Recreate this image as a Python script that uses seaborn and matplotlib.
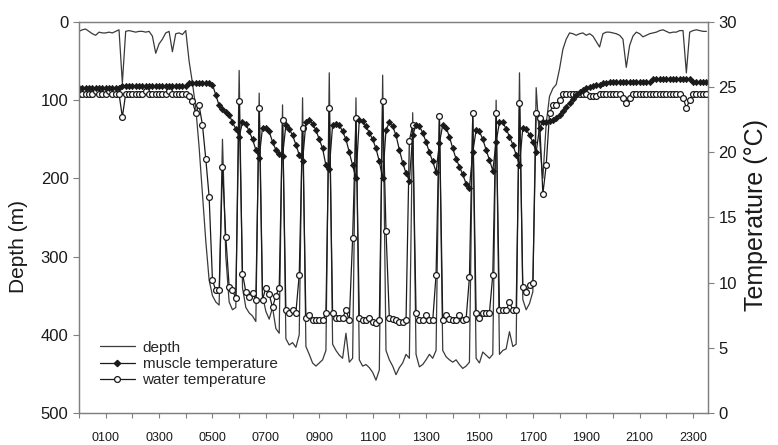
import numpy as np
import pandas as pd
import matplotlib
matplotlib.use('Agg')
import matplotlib.pyplot as plt
import seaborn as sns
from matplotlib.lines import Line2D

# one reading every 7.5 minutes, starting at 0000
sample_min = 7.5

depth = [
    12, 10, 9, 12, 15, 17, 13, 14, 14, 13, 14, 12, 10, 78, 12, 11, 12, 13, 12, 12,
    13, 12, 18, 40, 28, 22, 14, 12, 38, 15, 14, 16, 11, 50, 78,
    110, 160, 220, 280, 330, 350, 358, 362,
    150,
    300, 358, 368, 365,
    62,
    340, 365, 372, 376, 383,
    91,
    350, 370, 380, 365, 392, 398,
    106,
    405, 413, 410, 416, 400,
    97,
    415, 425, 436, 440, 436, 432, 420,
    65,
    412, 420, 426, 430, 398, 435, 430,
    97,
    432, 440, 438, 442, 448, 458, 445,
    68,
    420, 432, 440, 451, 442, 436, 425, 430,
    116,
    425, 441, 438, 432, 425, 430, 420,
    119,
    420, 428, 432, 435, 432, 438, 443, 440, 435,
    115,
    430, 436, 422, 426, 430, 425,
    100,
    425, 420, 418, 396, 415, 412,
    65,
    355, 368, 360, 345,
    84,
    150, 200, 130, 95, 85, 80, 60, 35, 22,
    14, 15, 17, 15, 14, 17, 15, 18, 25, 32, 15, 13, 13, 14, 15, 17, 22, 58, 30, 18,
    13, 15, 19, 17, 15, 14, 13, 11, 10, 12, 14, 13, 13, 11, 11, 65, 13, 11, 10, 11,
    12, 12,
]

muscle_temp = [
    24.9, 24.9, 24.9, 24.9, 24.9, 24.9, 24.9, 24.9, 24.9, 24.9, 24.9, 24.9, 24.9,
    25.1, 25.1, 25.1, 25.1, 25.1, 25.1, 25.1, 25.1, 25.1, 25.1, 25.1, 25.1, 25.1,
    25.1, 25.1, 25.1, 25.1, 25.1, 25.1, 25.1,
    25.3, 25.3, 25.3, 25.3, 25.3, 25.3, 25.3,
    25.2, 24.4, 23.6, 23.3, 23.1, 22.9, 22.3, 21.8, 21.2,
    22.3, 22.2, 21.6, 21.0, 20.2, 19.6,
    21.9, 21.9, 21.6, 20.8, 20.2, 19.9, 19.7,
    22.1, 21.8, 21.3, 20.6, 19.8, 19.3,
    22.3, 22.5, 22.2, 21.7, 21.0, 20.3, 19.0, 18.7,
    22.1, 22.2, 22.1, 21.6, 21.0, 20.0, 19.0, 18.0,
    22.5, 22.4, 22.0, 21.5, 21.0, 20.3, 19.3, 18.0,
    21.7, 22.3, 22.0, 21.3, 20.2, 19.2, 18.4, 17.8, 21.3,
    22.1, 22.0, 21.5, 20.8, 20.0, 19.3, 18.5, 20.7,
    22.1, 21.9, 21.2, 20.3, 19.5, 18.9, 18.3, 17.6, 17.3, 20.0,
    21.7, 21.6, 21.0, 20.2, 19.4, 18.6, 20.8,
    22.3, 22.3, 21.8, 21.2, 20.6, 19.8, 19.0,
    21.9, 21.8, 21.3, 20.8, 20.0,
    21.9, 22.3, 22.3, 22.4, 22.5, 22.6, 22.9, 23.2, 23.5, 23.8, 24.1, 24.4, 24.6,
    24.8, 24.9, 25.0, 25.1, 25.2, 25.2, 25.3, 25.3,
    25.4, 25.4, 25.4, 25.4, 25.4, 25.4, 25.4, 25.4, 25.4, 25.4, 25.4, 25.4, 25.4,
    25.6, 25.6, 25.6, 25.6, 25.6, 25.6, 25.6, 25.6, 25.6, 25.6, 25.6, 25.6,
    25.4, 25.4, 25.4, 25.4, 25.4,
]

water_temp = [
    24.5, 24.5, 24.5, 24.5, 24.5, 24.7, 24.5, 24.5, 24.5, 24.7, 24.5, 24.5, 24.5,
    22.7,
    24.5, 24.5, 24.5, 24.5, 24.5, 24.5, 24.7, 24.5, 24.5, 24.5, 24.5, 24.5, 24.5,
    24.7, 24.5, 24.5, 24.5, 24.5, 24.5,
    24.3, 23.9, 23.0, 23.6, 22.1, 19.5, 16.6, 10.2, 9.4, 9.4, 18.9, 13.5, 9.7, 9.4, 8.8,
    23.9,
    10.7, 9.3, 8.9, 9.2, 8.7,
    23.4,
    8.7, 9.6, 9.1, 8.1, 9.0, 9.6,
    22.5,
    7.9, 7.7, 7.9, 7.7, 10.6,
    21.9,
    7.3, 7.5, 7.1, 7.1, 7.1, 7.1, 7.7,
    23.4,
    7.7, 7.3, 7.3, 7.3, 7.9, 7.1, 13.4,
    22.6,
    7.3, 7.1, 7.1, 7.3, 7.0, 6.9, 7.1,
    23.9,
    14.0, 7.3, 7.2, 7.1, 7.0, 7.0, 7.1, 20.9,
    22.1,
    7.7, 7.1, 7.1, 7.5, 7.1, 7.1, 10.6,
    22.8,
    7.1, 7.5, 7.2, 7.1, 7.1, 7.5, 7.1, 7.2, 10.4,
    23.0,
    7.7, 7.3, 7.7, 7.7, 7.7, 10.6,
    23.0,
    7.9, 7.9, 7.9, 8.5, 7.9, 7.9,
    23.8,
    9.7, 9.3, 9.8, 10.0,
    23.0,
    22.6, 16.8, 19.0, 23.0, 23.6, 23.6, 24.0, 24.5,
    24.5, 24.5, 24.5, 24.5, 24.5, 24.5, 24.5, 24.3, 24.3, 24.3, 24.5, 24.5, 24.5,
    24.5, 24.5, 24.5, 24.5, 24.2, 23.8, 24.2, 24.5, 24.5, 24.5, 24.5, 24.5, 24.5,
    24.5, 24.5, 24.5, 24.5, 24.5, 24.5, 24.5, 24.5, 24.5, 24.2, 23.4, 24.0, 24.5,
    24.5, 24.5, 24.5, 24.5,
]

tick_hours = list(range(0, 24, 2))
label_hours = list(range(1, 24, 2))
hour_labels = ['0100', '0300', '0500', '0700', '0900', '1100',
               '1300', '1500', '1700', '1900', '2100', '2300']

hours = np.arange(len(depth)) * sample_min / 60.0
df = pd.DataFrame({'hour': hours, 'depth': depth,
                   'muscle': muscle_temp, 'water': water_temp})

sns.set_style('ticks')
plt.rcParams['font.family'] = ['Liberation Sans', 'DejaVu Sans']

gray = '#808080'
ink = '#1a1a1a'

fig = plt.figure(figsize=(7.78, 4.45), dpi=100)
ax = fig.add_axes([0.1015, 0.0719, 0.8085, 0.8787])
ax2 = ax.twinx()

sns.lineplot(data=df, x='hour', y='depth', ax=ax, color='#3a3a3a',
             linewidth=0.9, estimator=None, sort=False)
sns.lineplot(data=df, x='hour', y='water', ax=ax2, color=ink, linewidth=0.9,
             estimator=None, sort=False, marker='o', markersize=4.2,
             markerfacecolor='white', markeredgecolor=ink, markeredgewidth=0.9)
sns.lineplot(data=df, x='hour', y='muscle', ax=ax2, color=ink, linewidth=0.9,
             estimator=None, sort=False, marker='D', markersize=3.2,
             markerfacecolor=ink, markeredgecolor=ink, markeredgewidth=0.5)

ax.set_xlim(0, 23.56)
ax.set_ylim(500, 0)
ax2.set_ylim(0, 30)

ax.set_xticks(label_hours)
ax.set_xticklabels(hour_labels)
ax.set_xticks(tick_hours, minor=True)
ax.set_yticks(range(0, 501, 100))
ax2.set_yticks(range(0, 31, 5))

ax.tick_params(axis='x', which='both', direction='out', length=3.5, width=0.8,
               color=gray, pad=10, labelsize=9, labelcolor=ink, bottom=True)
ax.tick_params(axis='y', direction='out', length=4.5, width=0.8, color=gray,
               pad=3, labelsize=12, labelcolor=ink, left=True)
ax2.tick_params(axis='y', direction='out', length=4.5, width=0.8, color=gray,
                pad=3, labelsize=12, labelcolor=ink, right=True)

for a in (ax, ax2):
    for s in a.spines.values():
        s.set_visible(True)
        s.set_color(gray)
        s.set_linewidth(0.9)

ax.set_xlabel('')
ax.set_ylabel('Depth (m)', fontsize=15, color=ink)
ax.yaxis.set_label_coords(-0.081, 0.425)
ax2.set_ylabel('Temperature (°C)', fontsize=18, color=ink)
ax2.yaxis.set_label_coords(1.057, 0.506)

handles = [
    Line2D([], [], color='#3a3a3a', lw=0.9),
    Line2D([], [], color=ink, lw=0.9, marker='D', ms=3.2, mfc=ink, mec=ink),
    Line2D([], [], color=ink, lw=0.9, marker='o', ms=4.2, mfc='white', mec=ink, mew=0.9),
]
ax2.legend(handles, ['depth', 'muscle temperature', 'water temperature'],
           loc='lower left', bbox_to_anchor=(0.033, 0.066), frameon=False,
           fontsize=11, handlelength=2.3, handletextpad=0.5, labelspacing=0.15,
           borderpad=0, borderaxespad=0, numpoints=1)

fig.savefig('out.png', dpi=100)
